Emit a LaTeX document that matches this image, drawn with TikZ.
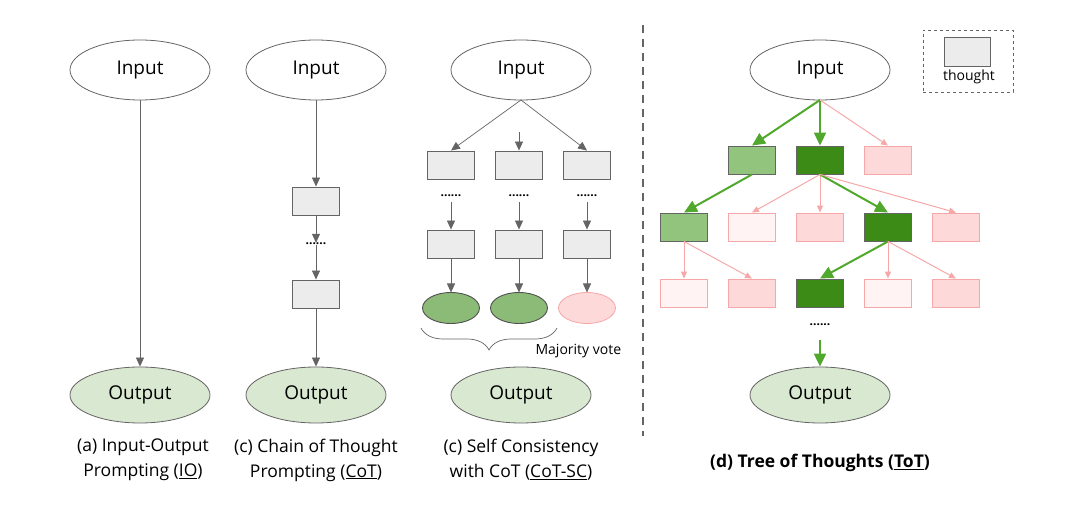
\documentclass[tikz,border=0pt]{standalone}
\usepackage{fontspec}
\setmainfont{Open Sans}
\usetikzlibrary{arrows.meta,decorations.pathreplacing,shapes.geometric}
\definecolor{grayline}{RGB}{100,100,100}
\definecolor{boxfill}{RGB}{236,236,236}
\definecolor{outfill}{RGB}{217,232,208}
\definecolor{lgreen}{RGB}{147,196,125}
\definecolor{dgreen}{RGB}{61,139,23}
\definecolor{garrow}{RGB}{80,168,44}
\definecolor{pinkfill}{RGB}{253,217,217}
\definecolor{pinkline}{RGB}{246,168,168}
\definecolor{palefill}{RGB}{255,243,243}
\tikzset{
  x=1pt,y=-1pt,
  ell/.style={ellipse,draw=grayline,line width=0.8pt,minimum width=140pt,minimum height=60pt,inner sep=0pt,font=\fontsize{19}{22}\selectfont},
  inp/.style={ell,fill=white},
  outp/.style={ell,fill=outfill,minimum height=56pt},
  tbox/.style={rectangle,draw=grayline,line width=0.9pt,fill=boxfill,minimum width=47pt,minimum height=28pt,inner sep=0pt},
  lgbox/.style={tbox,fill=lgreen},
  dgbox/.style={tbox,fill=dgreen},
  pbox/.style={rectangle,draw=pinkline,line width=0.9pt,fill=pinkfill,minimum width=47pt,minimum height=28pt,inner sep=0pt},
  pwbox/.style={pbox,fill=palefill},
  garr/.style={-{Triangle[length=9pt,width=8pt]},draw=grayline,line width=0.7pt},
  grarr/.style={-{Triangle[length=13pt,width=12pt]},draw=garrow,line width=2pt},
  parr/.style={-{Triangle[length=7pt,width=6pt]},draw=pinkline,line width=1pt},
  dots/.style={font=\bfseries\fontsize{12}{12}\selectfont,inner sep=0pt},
  captext/.style={font=\fontsize{17.5}{25}\selectfont,align=center},
  sellg/.style={ellipse,draw=grayline!80!black,line width=0.9pt,fill=lgreen!95!black,minimum width=57pt,minimum height=31pt,inner sep=0pt},
  sellp/.style={ellipse,draw=pinkline,line width=0.8pt,fill=pinkfill,minimum width=57pt,minimum height=31pt,inner sep=0pt},
}
\begin{document}
\begin{tikzpicture}
\useasboundingbox (0,0) rectangle (1080,510);
% (a) IO
\node[inp] (ioin) at (140,70) {Input};
\node[outp] (ioout) at (140,395) {Output};
\draw[garr] (ioin) -- (ioout);
\node[captext] (iocap) at (143,460) {(a) Input-Output\\Prompting (\underline{IO})};
% (c) CoT
\node[inp] (cotin) at (316,70) {Input};
\node[tbox] (cot1) at (316,201) {};
\node[dots] (cotd) at (316,244) {......};
\node[tbox] (cot2) at (316,294) {};
\node[outp] (cotout) at (316,395) {Output};
\draw[garr] (cotin) -- (cot1);
\draw[garr] (cot1) -- (cotd);
\draw[garr] (cotd) -- (cot2);
\draw[garr] (cot2) -- (cotout);
\node[captext] (cotcap) at (316,460) {(c) Chain of Thought\\Prompting (\underline{CoT})};
% (c) CoT-SC
\node[inp] (scin) at (521,70) {Input};
\foreach \i/\x in {1/451,2/519,3/587}{
  \node[tbox] (sca\i) at (\x,165) {};
  \node[dots] (scd\i) at (\x,196) {......};
  \node[tbox] (scb\i) at (\x,244) {};
  \draw[garr] (scd\i.south) ++(0,5) coordinate (scs\i) -- (scb\i);
  \draw[garr] (scb\i) -- ++(0,48.5);
}
\node[sellg] (sce1) at (451,308) {};
\node[sellg] (sce2) at (519,308) {};
\node[sellp] (sce3) at (587,308) {};
\coordinate (scbot) at (521,100);
\coordinate (scmid) at (519,132);
\draw[garr] (scbot) -- (sca1.north);
\draw[garr] (scmid) -- (sca2.north);
\draw[garr] (scbot) -- (sca3.north);
\draw[grayline,line width=0.7pt,decorate,decoration={brace,mirror,amplitude=22pt,aspect=0.5}] (421,328) -- (557,328);
\node[font=\fontsize{14}{16}\selectfont,anchor=west] (mv) at (532,351) {Majority vote};
\node[outp] (scout) at (521,395) {Output};
\node[captext] (sccap) at (521,460) {(c) Self Consistency\\with CoT (\underline{CoT-SC})};
% separator
\draw[grayline,line width=2pt,dash pattern=on 8pt off 6pt] (643,25) -- (643,436);
% legend
\node[draw=grayline,dashed,line width=0.6pt,minimum width=90pt,minimum height=62pt] (legend) at (968,61) {};
\node[tbox,minimum width=46pt,minimum height=29pt] (legbox) at (967,51.5) {};
\node[font=\fontsize{14}{16}\selectfont] (legtxt) at (969,77) {thought};
% (d) ToT
\node[inp] (totin) at (820,70) {Input};
\node[lgbox] (a1) at (752,160) {};
\node[dgbox] (a2) at (820,160) {};
\node[pbox] (a3) at (888,160) {};
\node[lgbox] (b1) at (684,227) {};
\node[pwbox] (b2) at (752,227) {};
\node[pbox] (b3) at (820,227) {};
\node[dgbox] (b4) at (888,227) {};
\node[pbox] (b5) at (956,227) {};
\node[pwbox] (c1) at (684,293) {};
\node[pbox] (c2) at (752,293) {};
\node[dgbox] (c3) at (820,293) {};
\node[pwbox] (c4) at (888,293) {};
\node[pbox] (c5) at (956,293) {};
\node[dots] (totd) at (820,325) {......};
\node[outp] (totout) at (820,395) {Output};
\coordinate (tb) at (820,100);
\draw[grarr] (tb) -- (a1.north);
\draw[grarr] (tb) -- (a2.north);
\draw[parr] (tb) -- (a3.north);
\draw[grarr] (a1.south) -- (b1.north);
\draw[parr] (a2.south) -- (b2.north);
\draw[parr] (a2.south) -- (b3.north);
\draw[grarr] (a2.south) -- (b4.north);
\draw[parr] (a2.south) -- (b5.north);
\draw[parr] (b1.south) -- (c1.north);
\draw[parr] (b1.south) -- (c2.north);
\draw[grarr] (b4.south) -- (c3.north);
\draw[parr] (b4.south) -- (c4.north);
\draw[parr] (b4.south) -- (c5.north);
\coordinate (tdd) at (820,340);
\draw[grarr] (tdd) -- (totout.north);
\node[font=\bfseries\fontsize{17.5}{22}\selectfont] (totcap) at (820,463) {(d) Tree of Thoughts (\underline{ToT})};
\end{tikzpicture}
\end{document}
